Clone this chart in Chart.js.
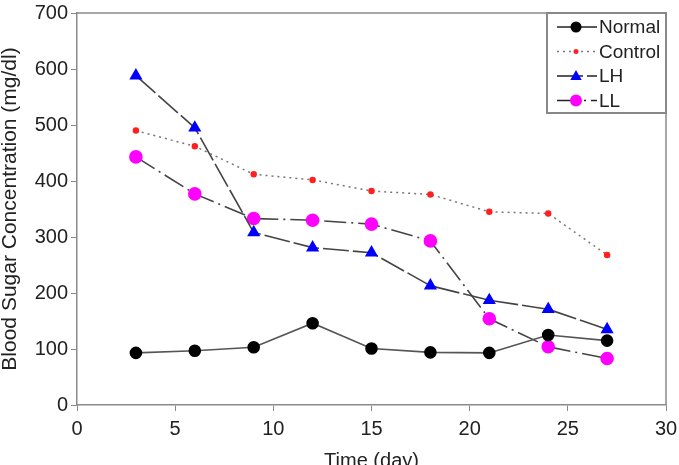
<!DOCTYPE html>
<html lang="en">
<head>
<meta charset="UTF-8">
<title>Blood Sugar</title>
<script src="https://cdn.jsdelivr.net/npm/chart.js@4.4.0/dist/chart.umd.min.js"></script>
<style>
  body { margin: 0; background: #fff; }
  #wrap { width: 679px; height: 465px; }
</style>
</head>
<body>
<div id="wrap"><canvas id="myChart"></canvas></div>
<script>
// values
const days    = [3, 6, 9, 12, 15, 18, 21, 24, 27];
const normal  = [93, 97, 103, 146, 101, 94, 93, 125, 115];
const control = [490, 462, 412, 402, 382, 376, 345, 342, 268];
const lh      = [588, 495, 308, 281, 272, 213, 187, 171, 135];
const ll      = [443, 377, 333, 330, 323, 293, 154, 104, 83];
const names   = ["Normal", "Control", "LH", "LL"];

function pts(vals) { return days.map((d, i) => ({x: d, y: vals[i]})); }

const axisGray = "#8a8a8a";
const font = "'Liberation Sans', Arial, sans-serif";

// box round the plot + legend inside the top right corner
const frameAndLegend = {
  id: "frameAndLegend",
  beforeDatasetsDraw(chart) {
    const {ctx, chartArea: a} = chart;
    ctx.save();
    ctx.strokeStyle = axisGray;
    ctx.lineWidth = 1.5;
    ctx.beginPath();
    ctx.moveTo(a.left, a.top);
    ctx.lineTo(a.right, a.top);
    ctx.lineTo(a.right, a.bottom);
    ctx.stroke();
    ctx.restore();
  },
  afterDraw(chart) {
    const {ctx, chartArea: a} = chart;
    const bx = a.right - 119, by = a.top, bw = 119, bh = 100;
    ctx.save();
    ctx.fillStyle = "#fff";
    ctx.fillRect(bx, by, bw, bh);
    ctx.strokeStyle = "#888";
    ctx.lineWidth = 2;
    ctx.strokeRect(bx, by, bw, bh);
    chart.data.datasets.forEach((ds, i) => {
      const y = by + 14 + i * 24.5;
      ctx.strokeStyle = i === 1 ? ds.borderColor : "#222";
      ctx.lineWidth = ds.borderWidth;
      ctx.setLineDash(ds.borderDash || []);
      ctx.beginPath();
      ctx.moveTo(bx + 10, y);
      ctx.lineTo(bx + 50, y);
      ctx.stroke();
      ctx.setLineDash([]);
      ctx.fillStyle = ds.pointBackgroundColor;
      const mx = bx + 29, r = ds.pointRadius;
      ctx.beginPath();
      if (ds.pointStyle === "triangle") {
        ctx.moveTo(mx, y - r);
        ctx.lineTo(mx + r * 0.95, y + r * 0.65);
        ctx.lineTo(mx - r * 0.95, y + r * 0.65);
        ctx.closePath();
      } else {
        ctx.arc(mx, y, r, 0, Math.PI * 2);
      }
      ctx.fill();
      ctx.fillStyle = "#222";
      ctx.font = "19px " + font;
      ctx.textBaseline = "middle";
      ctx.fillText(ds.label, bx + 52, y + 1);
    });
    ctx.restore();
  }
};

new Chart("myChart", {
  type: "line",
  data: {
    datasets: [{
      label: names[0],
      data: pts(normal),
      borderColor: "#555",
      borderWidth: 1.6,
      pointStyle: "circle",
      pointRadius: 5.5,
      pointBackgroundColor: "#000",
      pointBorderColor: "#000"
    }, {
      label: names[1],
      data: pts(control),
      borderColor: "#777",
      borderWidth: 1.5,
      borderDash: [2, 4],
      pointStyle: "circle",
      pointRadius: 2.5,
      pointBackgroundColor: "#ff2020",
      pointBorderColor: "#ff2020"
    }, {
      label: names[2],
      data: pts(lh),
      borderColor: "#444",
      borderWidth: 1.6,
      borderDash: [26, 4],
      pointStyle: "triangle",
      pointRadius: 6,
      pointBackgroundColor: "#0000ff",
      pointBorderColor: "#0000ff"
    }, {
      label: names[3],
      data: pts(ll),
      borderColor: "#444",
      borderWidth: 1.6,
      borderDash: [22, 5, 2, 5],
      pointStyle: "circle",
      pointRadius: 6,
      pointBackgroundColor: "#ff00ff",
      pointBorderColor: "#ff00ff"
    }]
  },
  options: {
    responsive: true,
    maintainAspectRatio: false,
    animation: false,
    layout: { padding: { left: 0, right: 13, top: 13, bottom: 0 } },
    plugins: { legend: { display: false }, tooltip: { enabled: false } },
    scales: {
      x: {
        type: "linear",
        min: 0, max: 30,
        afterFit(s) { s.height = 60; s.paddingLeft = 0; s.paddingRight = 0; },
        ticks: { stepSize: 5, color: "#222", font: { family: font, size: 20 }, padding: 6 },
        grid: { drawOnChartArea: false, tickLength: 6, color: axisGray },
        border: { color: axisGray, width: 1.5 },
        title: { display: true, text: "Time (day)", color: "#222",
                 font: { family: font, size: 20 }, padding: { top: 0, bottom: -8 } }
      },
      y: {
        min: 0, max: 700,
        afterFit(s) { s.width = 77; s.paddingTop = 0; s.paddingBottom = 0; },
        ticks: { stepSize: 100, color: "#222", font: { family: font, size: 20 }, padding: 3 },
        grid: { drawOnChartArea: false, tickLength: 6, color: axisGray },
        border: { color: axisGray, width: 1.5 },
        title: { display: true, text: "Blood Sugar Concentration (mg/dl)", color: "#222",
                 font: { family: font, size: 21 }, padding: { top: -2, bottom: 0 } }
      }
    }
  },
  plugins: [frameAndLegend]
});
</script>
</body>
</html>
